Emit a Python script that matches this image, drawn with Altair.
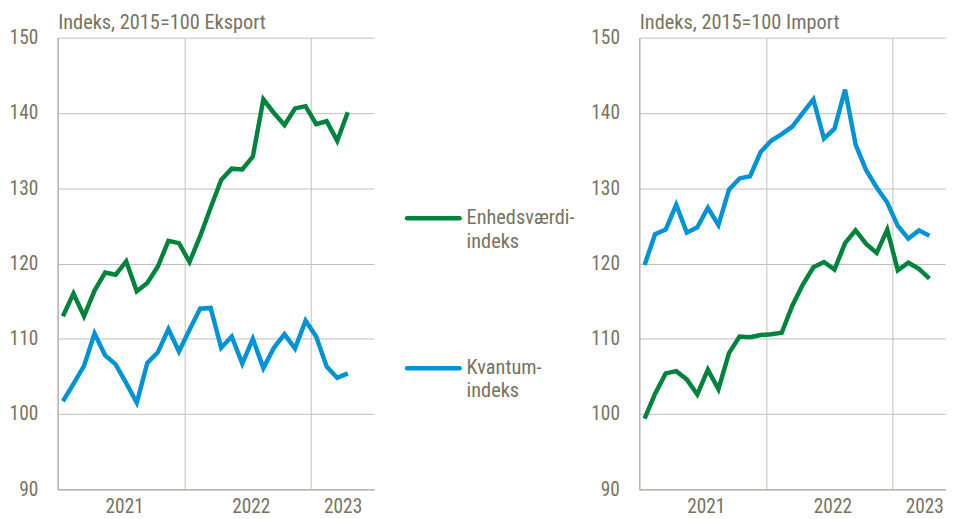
import altair as alt
import pandas as pd

# ---- data ----
months = ["2021-01", "2021-02", "2021-03", "2021-04", "2021-05", "2021-06",
          "2021-07", "2021-08", "2021-09", "2021-10", "2021-11", "2021-12",
          "2022-01", "2022-02", "2022-03", "2022-04", "2022-05", "2022-06",
          "2022-07", "2022-08", "2022-09", "2022-10", "2022-11", "2022-12",
          "2023-01", "2023-02", "2023-03", "2023-04"]

eksport_enhedsvaerdi = [113.0, 116.0, 113.0, 116.4, 118.8, 118.5, 120.3, 116.3, 117.4, 119.6,
                        123.0, 122.7, 120.2, 123.6, 127.4, 131.1, 132.6, 132.5, 134.2, 141.8,
                        140.0, 138.4, 140.6, 140.9, 138.5, 138.9, 136.3, 140.1]
eksport_kvantum = [101.7, 104.0, 106.4, 110.7, 107.8, 106.6, 104.1, 101.5, 106.8, 108.2,
                   111.3, 108.3, 111.2, 114.0, 114.1, 108.8, 110.3, 106.7, 110.0, 106.1,
                   108.8, 110.6, 108.7, 112.4, 110.3, 106.3, 104.8, 105.4]
import_enhedsvaerdi = [99.4, 102.7, 105.4, 105.7, 104.6, 102.6, 105.9, 103.3, 108.1, 110.3,
                       110.2, 110.5, 110.6, 110.8, 114.4, 117.2, 119.5, 120.2, 119.2, 122.7,
                       124.4, 122.6, 121.4, 124.5, 119.1, 120.1, 119.3, 118.0]
import_kvantum = [119.8, 123.9, 124.5, 127.8, 124.1, 124.8, 127.4, 125.1, 129.8, 131.3,
                  131.6, 134.8, 136.3, 137.2, 138.2, 140.0, 141.8, 136.6, 137.9, 143.1,
                  135.8, 132.4, 130.1, 128.1, 125.0, 123.3, 124.4, 123.7]

series = ["Enhedsværdiindeks", "Kvantumindeks"]
legend_labels = ["Enhedsværdi-\nindeks", "Kvantum-\nindeks"]
panel_titles = ["Indeks, 2015=100 Eksport", "Indeks, 2015=100 Import"]
year_ticks = [2021, 2022, 2023]
y_ticks = [90, 100, 110, 120, 130, 140, 150]

GREEN = "#00843d"
BLUE = "#0093d5"
TXT = "#77735f"
GRID = "#c3c0b5"
FONT = "Roboto Condensed, Liberation Sans, sans-serif"


def frame(a, b):
    t = [int(m[:4]) + (int(m[5:]) - 0.5) / 12 for m in months]
    return pd.DataFrame({
        "t": t * 2,
        "value": a + b,
        "serie": [series[0]] * len(a) + [series[1]] * len(b),
    })


color = alt.Color("serie:N", scale=alt.Scale(domain=series, range=[GREEN, BLUE]), legend=None)


def panel(df, title, n_slots):
    return alt.Chart(df).mark_line(strokeWidth=4.5).encode(
        x=alt.X("t:Q",
                scale=alt.Scale(domain=[2021, 2021 + n_slots / 12], nice=False, zero=False),
                axis=alt.Axis(values=year_ticks, format="d", title=None, ticks=False,
                              grid=True, labelFlush=False, labelOverlap=False, labelPadding=8,
                              labelOffset={"condition": {"test": "datum.value == 2023", "value": 32},
                                           "value": 67})),
        y=alt.Y("value:Q",
                scale=alt.Scale(domain=[90, 150], nice=False, zero=False),
                axis=alt.Axis(values=y_ticks, title=title, ticks=False, grid=True, labelPadding=20,
                              titleAngle=0, titleX=0, titleY=-9, titleAlign="left",
                              titleBaseline="alphabetic", titleFont=FONT, titleFontSize=20.5,
                              titleFontWeight="normal", titleColor=TXT)),
        color=color,
        order="t:Q",
    ).properties(width=n_slots * 10.63, height=455)


left = panel(frame(eksport_enhedsvaerdi, eksport_kvantum), panel_titles[0], 30)
right = panel(frame(import_enhedsvaerdi, import_kvantum), panel_titles[1], 29)

leg_df = pd.DataFrame({"serie": series, "label": legend_labels})
leg_base = alt.Chart(leg_df).encode(
    y=alt.Y("serie:N", scale=alt.Scale(type="point", domain=series, range=[182, 333], padding=0),
            axis=None)
)
leg_rules = leg_base.mark_rule(strokeWidth=4.5, strokeCap="round").encode(
    x=alt.value(33), x2=alt.value(86), color=color)
leg_text = leg_base.mark_text(align="left", baseline="alphabetic", dy=6, lineBreak="\n",
                              lineHeight=23.5, fontSize=20.5, font=FONT, color=TXT).encode(
    x=alt.value(93), text="label:N")
middle = alt.layer(leg_rules, leg_text).properties(width=267, height=455)

chart = alt.hconcat(left, middle, right, spacing=0, bounds="flush").properties(
    padding={"left": 1, "top": 3, "right": 0, "bottom": 0}
).configure_view(stroke=None).configure_axis(
    labelFont=FONT, labelFontSize=19.5, labelColor=TXT,
    gridColor=GRID, gridWidth=1, domainColor="#b3afa3", domainWidth=1.2,
)

chart.save("out.html", embed_options={"renderer": "svg", "actions": False})
